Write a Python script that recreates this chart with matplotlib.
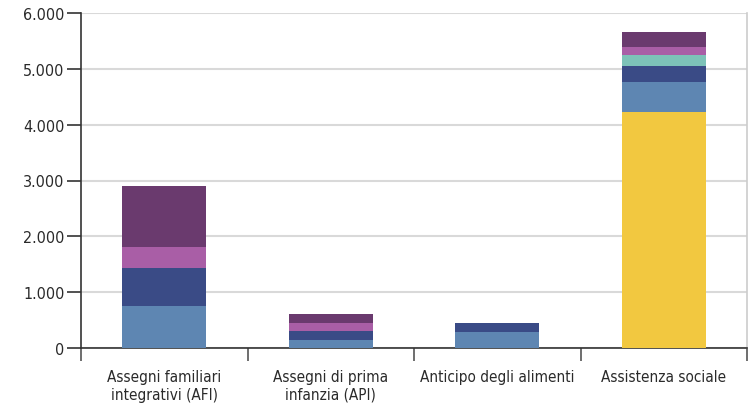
import matplotlib
matplotlib.use("Agg")
import matplotlib.pyplot as plt
import numpy as np

categories = ["Assegni familiari\nintegrativi (AFI)", "Assegni di prima\ninfanzia (API)",
              "Anticipo degli alimenti", "Assistenza sociale"]
# stacked segments, bottom to top
seg_yellow = [0, 0, 0, 4230]
seg_lightblue = [758, 149, 287, 543]
seg_darkblue = [676, 161, 161, 275]
seg_teal = [0, 0, 0, 208]
seg_pink = [376, 133, 0, 138]
seg_purple = [1100, 172, 0, 269]
y_ticks = [0, 1000, 2000, 3000, 4000, 5000, 6000]
y_tick_labels = ["0", "1.000", "2.000", "3.000", "4.000", "5.000", "6.000"]

series = [seg_yellow, seg_lightblue, seg_darkblue, seg_teal, seg_pink, seg_purple]
colors = ["#F2C840", "#5E86B2", "#3A4B86", "#7DC2B8", "#A95EA6", "#6A3A6E"]

plt.rcParams['font.family'] = ['DejaVu Sans']
plt.rcParams['font.stretch'] = 'condensed'

fig = plt.figure(figsize=(7.5, 4.06), dpi=100)
ax = fig.add_axes([81/750, 1 - 349/406, 666/750, 335/406])

x = np.arange(len(categories))
bottom = np.zeros(len(categories))
for vals, c in zip(series, colors):
    v = np.array(vals, dtype=float)
    ax.bar(x, v, width=0.505, bottom=bottom, color=c, edgecolor='none', zorder=3)
    bottom += v

ax.set_xlim(-0.5, 3.5)
ax.set_ylim(0, 6000)
ax.set_yticks(y_ticks)
ax.set_yticklabels(y_tick_labels, fontsize=11.5, color='#2a2a2a')
ax.yaxis.grid(True, color='#d9d9d9', linewidth=1.5, zorder=0)
ax.tick_params(axis='y', length=10, width=1.2, color='#333333', pad=2)

ax.set_xticks(np.arange(-0.5, 4.0, 1.0))
ax.set_xticklabels([])
ax.tick_params(axis='x', which='major', length=9, width=1.2, color='#555555', direction='out')
ax.set_xticks(x, minor=True)
ax.set_xticklabels(categories, minor=True, fontsize=11, color='#2a2a2a', linespacing=1.25)
ax.tick_params(axis='x', which='minor', length=0, pad=15)

ax.spines['top'].set_visible(False)
ax.spines['right'].set_color('#cccccc')
ax.spines['right'].set_linewidth(1.2)
ax.spines['left'].set_color('#333333')
ax.spines['left'].set_linewidth(1.2)
ax.spines['bottom'].set_color('#333333')
ax.spines['bottom'].set_linewidth(1.2)

fig.savefig("out.png", dpi=100)
